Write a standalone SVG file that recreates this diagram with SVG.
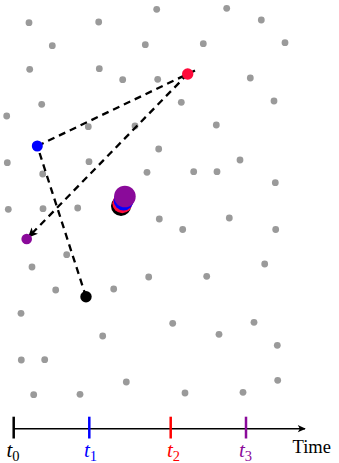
<svg xmlns="http://www.w3.org/2000/svg" width="339" height="463" viewBox="0 0 339 463">
<style>
.g{fill:#9a9a9a}
.dash{stroke:#000;stroke-width:2.3;stroke-dasharray:7 5;fill:none}
.lbl{font-family:"Liberation Serif",serif;font-style:italic;font-size:21px}
.sub{font-style:normal;font-size:14.5px}
.time{font-family:"Liberation Serif",serif;font-size:18.5px;fill:#000}
</style>
<defs>
<marker id="ah" viewBox="0 0 10 10" refX="9" refY="5" markerWidth="10" markerHeight="10" markerUnits="userSpaceOnUse" orient="auto">
<path d="M0,0.5 L10,5 L0,9.5 L2.5,5 Z" fill="#000"/>
</marker>
<marker id="ah2" viewBox="0 0 10 10" refX="9" refY="5" markerWidth="9" markerHeight="8" markerUnits="userSpaceOnUse" orient="auto">
<path d="M0,0.5 L10,5 L0,9.5 L2.5,5 Z" fill="#000"/>
</marker>
</defs>
<g id="background-points">
<circle class="g" cx="29" cy="22.7" r="3.4"/>
<circle class="g" cx="98.7" cy="22" r="3.4"/>
<circle class="g" cx="156.7" cy="9.3" r="3.4"/>
<circle class="g" cx="52.3" cy="45.7" r="3.4"/>
<circle class="g" cx="145.3" cy="44.7" r="3.4"/>
<circle class="g" cx="29.7" cy="69.3" r="3.4"/>
<circle class="g" cx="99.3" cy="68.7" r="3.4"/>
<circle class="g" cx="122.7" cy="79.7" r="3.4"/>
<circle class="g" cx="157.7" cy="79.3" r="3.4"/>
<circle class="g" cx="41.7" cy="104.3" r="3.4"/>
<circle class="g" cx="6.7" cy="116" r="3.4"/>
<circle class="g" cx="226.7" cy="8.3" r="3.4"/>
<circle class="g" cx="261.3" cy="20" r="3.4"/>
<circle class="g" cx="203.3" cy="43.7" r="3.4"/>
<circle class="g" cx="285" cy="42.7" r="3.4"/>
<circle class="g" cx="250.3" cy="78" r="3.4"/>
<circle class="g" cx="181.3" cy="102.3" r="3.4"/>
<circle class="g" cx="274" cy="101" r="3.4"/>
<circle class="g" cx="88.3" cy="126.7" r="3.4"/>
<circle class="g" cx="135" cy="126" r="3.4"/>
<circle class="g" cx="7.3" cy="162.7" r="3.4"/>
<circle class="g" cx="89" cy="161.7" r="3.4"/>
<circle class="g" cx="158.7" cy="149" r="3.4"/>
<circle class="g" cx="42.7" cy="174" r="3.4"/>
<circle class="g" cx="147" cy="172.3" r="3.4"/>
<circle class="g" cx="8.3" cy="209.3" r="3.4"/>
<circle class="g" cx="43" cy="208.7" r="3.4"/>
<circle class="g" cx="77.7" cy="208" r="3.4"/>
<circle class="g" cx="159.3" cy="219" r="3.4"/>
<circle class="g" cx="216.3" cy="125" r="3.4"/>
<circle class="g" cx="240" cy="160" r="3.4"/>
<circle class="g" cx="193.7" cy="171.7" r="3.4"/>
<circle class="g" cx="217" cy="171.7" r="3.4"/>
<circle class="g" cx="275.3" cy="182.7" r="3.4"/>
<circle class="g" cx="229.3" cy="218" r="3.4"/>
<circle class="g" cx="182.7" cy="229.5" r="3.4"/>
<circle class="g" cx="275.7" cy="229.5" r="3.4"/>
<circle class="g" cx="66.7" cy="254.7" r="3.4"/>
<circle class="g" cx="32" cy="267" r="3.4"/>
<circle class="g" cx="148.7" cy="277" r="3.4"/>
<circle class="g" cx="55.7" cy="290" r="3.4"/>
<circle class="g" cx="113.7" cy="289" r="3.4"/>
<circle class="g" cx="21" cy="313.3" r="3.4"/>
<circle class="g" cx="102.7" cy="336" r="3.4"/>
<circle class="g" cx="172.7" cy="323.3" r="3.4"/>
<circle class="g" cx="21.3" cy="360" r="3.4"/>
<circle class="g" cx="44.7" cy="359.7" r="3.4"/>
<circle class="g" cx="126.3" cy="382" r="3.4"/>
<circle class="g" cx="33.7" cy="394.7" r="3.4"/>
<circle class="g" cx="80" cy="394.3" r="3.4"/>
<circle class="g" cx="264.7" cy="264" r="3.4"/>
<circle class="g" cx="206.7" cy="276.3" r="3.4"/>
<circle class="g" cx="254" cy="322.3" r="3.4"/>
<circle class="g" cx="219" cy="334.3" r="3.4"/>
<circle class="g" cx="277.3" cy="345.3" r="3.4"/>
<circle class="g" cx="277.7" cy="380.3" r="3.4"/>
<circle class="g" cx="185" cy="393" r="3.4"/>
<circle class="g" cx="243" cy="392.3" r="3.4"/>
</g>
<g id="connectors">
<line class="dash" x1="86" y1="296.7" x2="37.3" y2="146"/>
<line class="dash" x1="37.3" y1="146" x2="195" y2="70.5"/>
<line class="dash" x1="187.7" y1="74" x2="28.5" y2="237" marker-end="url(#ah)"/>
</g>
<g id="stack">
<circle cx="121" cy="206" r="10" fill="#000"/>
<circle cx="122.3" cy="203.2" r="10" fill="#ff0a3a"/>
<circle cx="123.6" cy="200.4" r="10" fill="#0000ff"/>
<circle cx="124.9" cy="196.5" r="10.8" fill="#8a0a9a"/>
</g>
<g id="p-t0"><circle cx="86" cy="296.7" r="5.7" fill="#000"/></g>
<g id="p-t1"><circle cx="37.3" cy="146" r="5.5" fill="#0000ff"/></g>
<g id="p-t2"><circle cx="187.7" cy="74" r="5.7" fill="#ff0a3a"/></g>
<g id="p-t3"><circle cx="26.7" cy="239" r="5.3" fill="#8a0a9a"/></g>
<g id="timeline">
<line x1="13.3" y1="428.7" x2="305" y2="428.7" stroke="#000" stroke-width="1.4" marker-end="url(#ah2)"/>
<line x1="13.7" y1="416.7" x2="13.7" y2="438.5" stroke="#000" stroke-width="2.5"/>
<line x1="89.3" y1="416.7" x2="89.3" y2="438.5" stroke="#0000ff" stroke-width="2.5"/>
<line x1="170.7" y1="416.7" x2="170.7" y2="438.5" stroke="#ff0000" stroke-width="2.5"/>
<line x1="246" y1="416.7" x2="246" y2="438.5" stroke="#8a0a9a" stroke-width="2.5"/>
<text class="lbl" x="6.5" y="457" fill="#000">t<tspan class="sub" dy="4">0</tspan></text>
<text class="lbl" x="84" y="457" fill="#0000ff">t<tspan class="sub" dy="4">1</tspan></text>
<text class="lbl" x="167" y="457" fill="#ff0000">t<tspan class="sub" dy="4">2</tspan></text>
<text class="lbl" x="239" y="457" fill="#8a0a9a">t<tspan class="sub" dy="4">3</tspan></text>
<text class="time" x="292.5" y="453">Time</text>
</g>
</svg>
